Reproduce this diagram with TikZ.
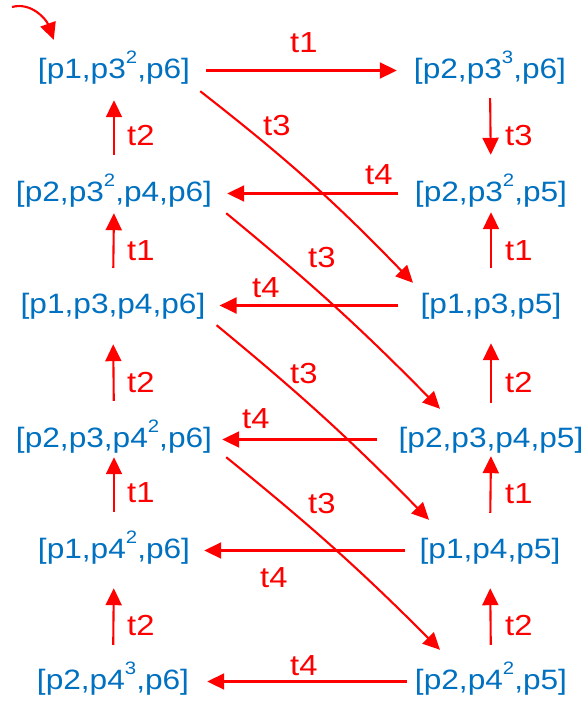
\documentclass[tikz,border=0pt]{standalone}
\usepackage{fontspec}
\setmainfont{Liberation Sans}[FakeStretch=1.13]
\usetikzlibrary{arrows.meta,calc}
\definecolor{stblue}{RGB}{0,112,192}
\definecolor{trred}{RGB}{255,0,0}
\newcommand\pw[1]{\raisebox{15pt}{\fontsize{18}{18}\selectfont #1}}
\begin{document}
\begin{tikzpicture}[x=1pt,y=-1pt,
  state/.style={text=stblue,font=\fontsize{28}{34}\selectfont,inner sep=0pt,
    text height=21pt,text depth=6pt,anchor=base},
  tr/.style={draw=trred,line width=2.1pt,-{Triangle[length=17pt,width=16pt]}},
  lab/.style={text=trred,font=\fontsize{29}{34}\selectfont,inner sep=0pt,anchor=base west}]
\useasboundingbox (0,0) rectangle (587,702);
% states
\node[state] (L1) at (114,78)  {[p1,p3\pw{2},p6]};
\node[state] (L2) at (114,201) {[p2,p3\pw{2},p4,p6]};
\node[state] (L3) at (113,313) {[p1,p3,p4,p6]};
\node[state] (L4) at (114,447) {[p2,p3,p4\pw{2},p6]};
\node[state] (L5) at (114,558) {[p1,p4\pw{2},p6]};
\node[state] (L6) at (113,689) {[p2,p4\pw{3},p6]};
\node[state] (R1) at (490,78)  {[p2,p3\pw{3},p6]};
\node[state] (R2) at (491,201) {[p2,p3\pw{2},p5]};
\node[state] (R3) at (491,313) {[p1,p3,p5]};
\node[state] (R4) at (491,447) {[p2,p3,p4,p5]};
\node[state] (R5) at (490,558) {[p1,p4,p5]};
\node[state] (R6) at (491,689) {[p2,p4\pw{2},p5]};
% initial arrow
\coordinate (init) at (12,7);
\draw[tr] (init) to[out=15,in=110] ($(L1.north west)+(16,-17)$);
% horizontal arrows
\draw[tr,shorten <=16pt,shorten >=17pt] (L1.east) -- (R1.west);
\draw[tr,shorten <=17pt,shorten >=15pt] (R2.west) -- (L2.east);
\draw[tr,shorten <=22pt,shorten >=14pt] (R3.west) -- (L3.east);
\draw[tr,shorten <=21pt,shorten >=10pt] (R4.west) -- (L4.east);
\draw[tr,shorten <=14pt,shorten >=14pt] (R5.west) -- (L5.east);
\draw[tr,shorten <=8pt,shorten >=18pt]  (R6.west) -- (L6.east);
% left vertical arrows
\draw[tr,shorten <=25pt,shorten >=16pt] (L2.north) -- (L1.south);
\draw[tr,shorten <=24pt,shorten >=6pt]  (L3.north) -- (L2.south);
\draw[tr,shorten <=25pt,shorten >=25pt] (L4.north) -- (L3.south);
\draw[tr,shorten <=25pt,shorten >=4pt]  (L5.north) -- (L4.south);
\draw[tr,shorten <=23pt,shorten >=24pt] (L6.north) -- (L5.south);
% right vertical arrows
\draw[tr,shorten <=14pt,shorten >=25pt] (R1.south) -- (R2.north);
\draw[tr,shorten <=24pt,shorten >=5pt]  (R3.north) -- (R2.south);
\draw[tr,shorten <=23pt,shorten >=24pt] (R4.north) -- (R3.south);
\draw[tr,shorten <=24pt,shorten >=3pt]  (R5.north) -- (R4.south);
\draw[tr,shorten <=23pt,shorten >=24pt] (R6.north) -- (R5.south);
% diagonal t3 arrows
\draw[tr] ($(L1.south east)+(10,7)$) to[bend left=4] ($(R3.north)+(-78,-9)$);
\draw[tr] ($(L2.south east)+(14,6)$) to[bend left=3] ($(R4.north)+(-51,-17)$);
\draw[tr] ($(L3.south east)+(11,6)$) to[bend left=3] ($(R5.north)+(-61,-17)$);
\draw[tr] ($(L4.south east)+(14,4)$) to[bend left=3] ($(R6.north)+(-51,-18)$);
% labels
\node[lab] (a1) at (127,145) {t2};
\node[lab] (a2) at (127,260) {t1};
\node[lab] (a3) at (127,392) {t2};
\node[lab] (a4) at (127,502) {t1};
\node[lab] (a5) at (127,635) {t2};
\node[lab] (b1) at (505,145) {t3};
\node[lab] (b2) at (505,260) {t1};
\node[lab] (b3) at (505,392) {t2};
\node[lab] (b4) at (505,503) {t1};
\node[lab] (b5) at (505,635) {t2};
\node[lab] (h1) at (290,52)  {t1};
\node[lab] (h2) at (365,184) {t4};
\node[lab] (h3) at (252,297) {t4};
\node[lab] (h4) at (242,428) {t4};
\node[lab] (h5) at (260,587) {t4};
\node[lab] (h6) at (290,675) {t4};
\node[lab] (d1) at (263,135) {t3};
\node[lab] (d2) at (308,267) {t3};
\node[lab] (d3) at (290,383) {t3};
\node[lab] (d4) at (308,513) {t3};
\end{tikzpicture}
\end{document}
